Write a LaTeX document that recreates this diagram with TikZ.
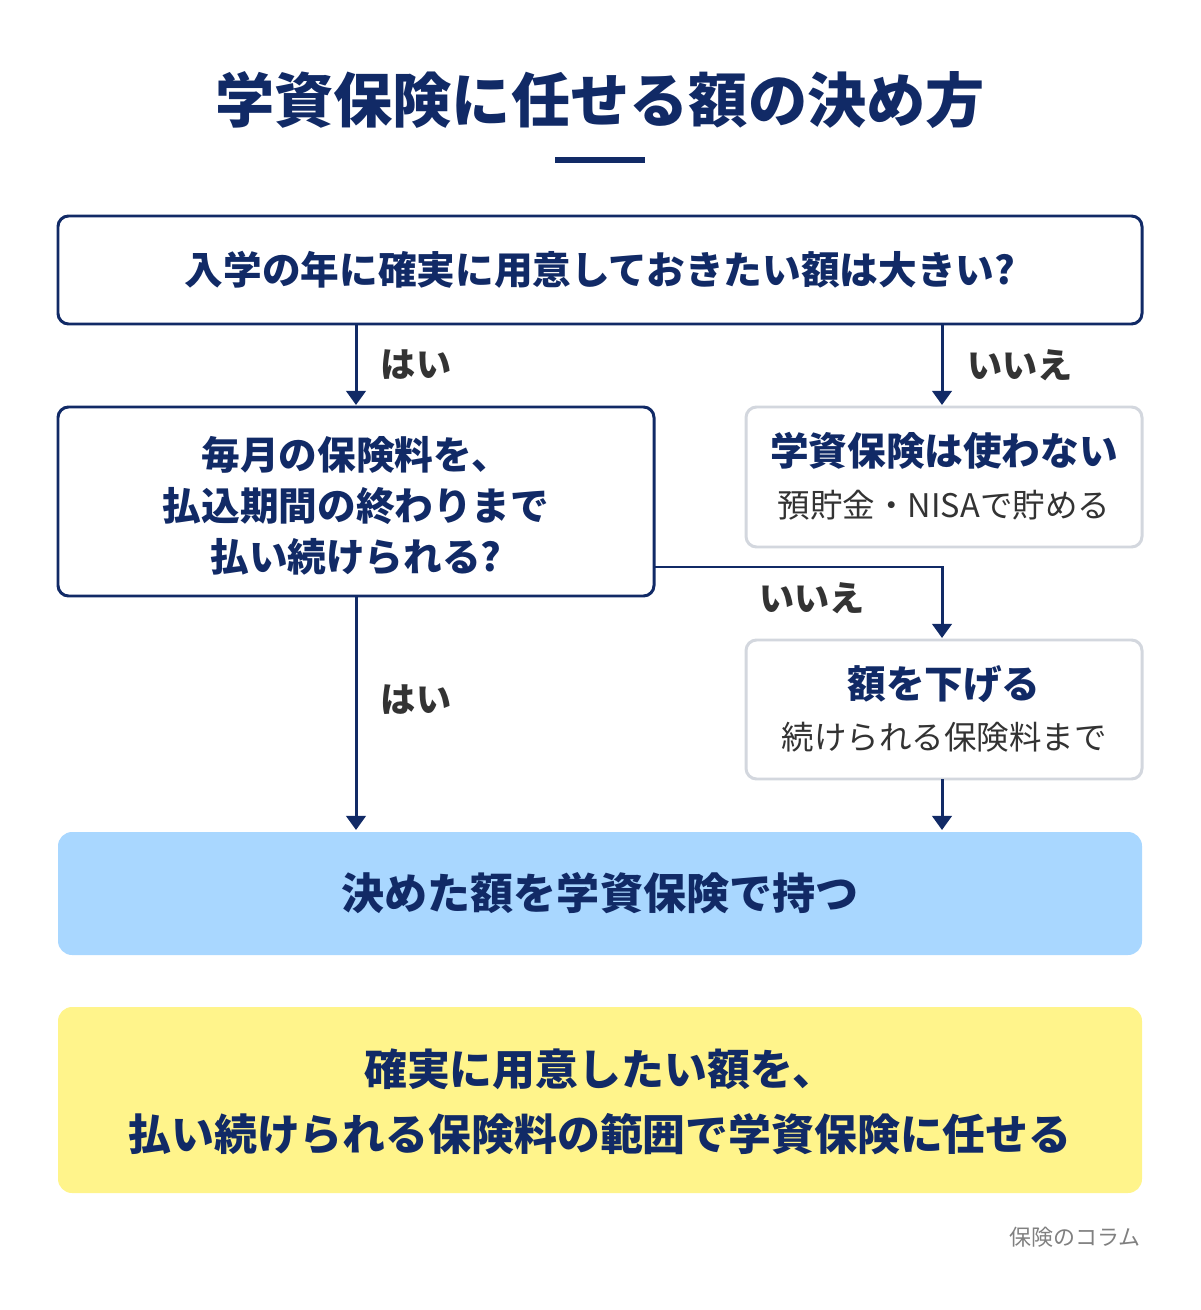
\documentclass[tikz,border=0pt]{standalone}
\usepackage{fontspec}
\setmainfont{Noto Sans CJK JP}
\usetikzlibrary{arrows.meta,positioning}
\definecolor{navy}{HTML}{112A66}
\definecolor{txtgray}{HTML}{333333}
\definecolor{boxgray}{HTML}{D3D7DE}
\definecolor{lblue}{HTML}{A9D7FF}
\definecolor{lyellow}{HTML}{FFF48B}
\tikzset{
  qbox/.style={draw=navy,line width=1.7pt,rounded corners=6pt,fill=white},
  abox/.style={draw=boxgray,line width=1.7pt,rounded corners=6pt,fill=white},
  fbox/.style={rounded corners=8pt},
  btxt/.style={text=navy,font=\bfseries\fontsize{22}{29}\selectfont,align=center},
  rtxt/.style={text=txtgray,font=\fontsize{18.5}{22}\selectfont},
  lbl/.style={text=txtgray,font=\bfseries\fontsize{20}{22}\selectfont},
  arr/.style={draw=navy,line width=1.7pt,-{Triangle[length=8pt,width=11pt]}}
}
\begin{document}
\begin{tikzpicture}[x=0.02cm,y=-0.02cm]
\useasboundingbox (0,0) rectangle (1200,1310);
% title
\node[text=navy,font=\bfseries\fontsize{33.7}{38}\selectfont] (title) at (600,100) {学資保険に任せる額の決め方};
\draw[navy,line width=3.5pt] (555,160) -- (645,160);
% boxes
\draw[qbox] (58,216) rectangle (1142,324);
\node[btxt] (q1) at (600,270) {入学の年に確実に用意しておきたい額は大きい?};
\draw[qbox] (58,407) rectangle (654,596);
\node[btxt] (q2) at (356,506) {毎月の保険料を、\\払込期間の終わりまで\\払い続けられる?};
\draw[abox] (746,407) rectangle (1142,547);
\node[btxt] (a1) at (944,451) {学資保険は使わない};
\node[rtxt] (a1s) at (944,505) {預貯金・NISAで貯める};
\draw[abox] (746,640) rectangle (1142,779);
\node[btxt] (a2) at (944,684) {額を下げる};
\node[rtxt] (a2s) at (944,737) {続けられる保険料まで};
\fill[lblue,fbox] (58,832) rectangle (1142,955);
\node[btxt,font=\bfseries\fontsize{24.5}{28}\selectfont] (res) at (600,893) {決めた額を学資保険で持つ};
\fill[lyellow,fbox] (58,1007) rectangle (1142,1193);
\node[btxt,font=\bfseries\fontsize{24.4}{37}\selectfont] (sum) at (600,1102) {確実に用意したい額を、\\払い続けられる保険料の範囲で学資保険に任せる};
\node[text=gray,font=\fontsize{12.5}{15}\selectfont] (src) at (1075,1237) {保険のコラム};
% connectors
\coordinate (q1l) at (356,324);
\coordinate (q1r) at (942,324);
\coordinate (q2t) at (356,405);
\coordinate (a1t) at (942,405);
\coordinate (q2r) at (654,567);
\coordinate (a2t) at (942,638);
\coordinate (q2b) at (356,596);
\coordinate (a2b) at (942,779);
\coordinate (resl) at (356,830);
\coordinate (resr) at (942,830);
\draw[arr] (q1l) -- (q2t);
\draw[arr] (q1r) -- (a1t);
\draw[arr] (q2r) -| (a2t);
\draw[arr] (q2b) -- (resl);
\draw[arr] (a2b) -- (resr);
\node[lbl] (yes1) at (416,365) {はい};
\node[lbl] (no1) at (1020,365) {いいえ};
\node[lbl] (no2) at (812,598) {いいえ};
\node[lbl] (yes2) at (416,700) {はい};
\end{tikzpicture}
\end{document}
